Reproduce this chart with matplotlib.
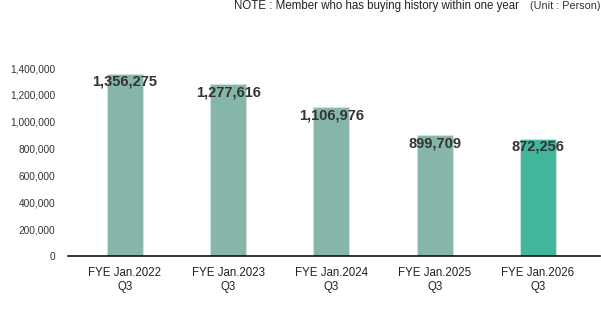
import matplotlib
matplotlib.use('Agg')
import matplotlib.pyplot as plt
from matplotlib.ticker import FuncFormatter

# Members with buying history within one year
periods = ['FYE Jan.2022\nQ3', 'FYE Jan.2023\nQ3', 'FYE Jan.2024\nQ3',
           'FYE Jan.2025\nQ3', 'FYE Jan.2026\nQ3']
members = [1356275, 1277616, 1106976, 899709, 872256]
bar_colors = ['#85b6a9', '#85b6a9', '#85b6a9', '#85b6a9', '#41b69d']
yticks = [0, 200000, 400000, 600000, 800000, 1000000, 1200000, 1400000]

plt.rcParams['font.family'] = ['Liberation Sans', 'DejaVu Sans']

W, H = 601, 324
fig = plt.figure(figsize=(W / 100, H / 100), dpi=100)
ax = fig.add_axes([68 / W, (H - 256) / H, (600 - 68) / W, (256 - 68) / H])

x = list(range(len(periods)))
ax.bar(x, members, width=0.35, color=bar_colors, edgecolor='#cfe3dd', linewidth=0.8)

for xi, v in zip(x, members):
    ax.annotate('{:,}'.format(v), (xi, v), xytext=(0, -8), textcoords='offset pixels',
                ha='center', va='center', fontsize=10.5, fontweight='bold', color='#333333')

ax.set_xlim(-0.55, 4.6)
ax.set_ylim(0, 1400000)
ax.set_yticks(yticks)
ax.yaxis.set_major_formatter(FuncFormatter(lambda v, p: '{:,}'.format(int(v))))
ax.set_xticks(x)
ax.set_xticklabels(periods, fontsize=8.3, color='#222222', linespacing=1.2)
ax.tick_params(axis='y', length=0, labelsize=7.3, labelcolor='#333333', pad=9)
ax.tick_params(axis='x', length=0, pad=8)

for s in ['top', 'right', 'left']:
    ax.spines[s].set_visible(False)
ax.spines['bottom'].set_color('#111111')
ax.spines['bottom'].set_linewidth(1.2)

fig.text(519 / W, 1 - 6 / H, 'NOTE : Member who has buying history within one year',
         ha='right', va='center', fontsize=8.3, color='#222222')
fig.text(600 / W, 1 - 6 / H, '(Unit : Person)', ha='right', va='center',
         fontsize=7.8, color='#333333')

fig.savefig('out.png', dpi=100)
